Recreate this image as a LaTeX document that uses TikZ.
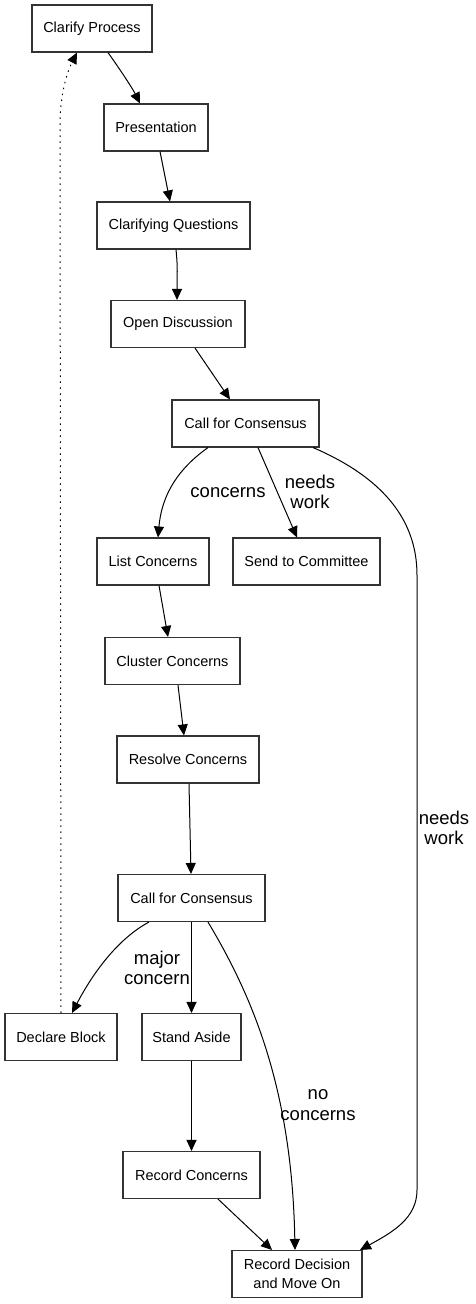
\documentclass[tikz,border=0pt]{standalone}
\usepackage{fontspec}
\setmainfont{Liberation Sans}
\usetikzlibrary{arrows.meta}
\begin{document}
\begin{tikzpicture}[x=1pt,y=-1pt,
  box/.style={draw=black!80,line width=1.1pt,minimum height=47pt,inner sep=0pt,
    font=\fontsize{14.5}{19}\selectfont,align=center},
  lbl/.style={font=\fontsize{18.5}{20.5}\selectfont,align=center,inner sep=0pt},
  edge/.style={line width=1pt,-{Triangle[length=11pt,width=10pt]}},
  back/.style={edge,dash pattern=on 1.5pt off 4.5pt}]
\useasboundingbox[fill=white] (0,0) rectangle (476,1304);
\node[box,minimum width=120pt] (cp) at (92,28.5) {Clarify Process};
\node[box,minimum width=104pt] (pres) at (156,127.5) {Presentation};
\node[box,minimum width=153pt] (cq) at (173.5,225.5) {Clarifying Questions};
\node[box,minimum width=134pt] (od) at (178,324) {Open Discussion};
\node[box,minimum width=147pt] (cfa) at (245.5,423.5) {Call for Consensus};
\node[box,minimum width=112pt] (lc) at (153,561.5) {List Concerns};
\node[box,minimum width=147pt] (stc) at (306.5,561.5) {Send to Committee};
\node[box,minimum width=135pt] (cc) at (172.5,661) {Cluster Concerns};
\node[box,minimum width=142pt] (rc) at (188,759.5) {Resolve Concerns};
\node[box,minimum width=147pt] (cfb) at (191.5,898) {Call for Consensus};
\node[box,minimum width=112pt] (db) at (61,1037) {Declare Block};
\node[box,minimum width=99pt] (sa) at (191.5,1037) {Stand Aside};
\node[box,minimum width=137pt] (rcon) at (191.5,1175) {Record Concerns};
\node[box,minimum width=130pt] (rd) at (297,1274) {Record Decision\\and Move On};

\node[lbl] (l1) at (228,493) {concerns};
\node[lbl] (l2) at (310,492) {needs\\work};
\node[lbl] (l3) at (444,828) {needs\\work};
\node[lbl] (l4) at (157,968) {major\\concern};
\node[lbl] (l5) at (318,1105) {no\\concerns};

\draw[edge] ([xshift=16pt]cp.south) .. controls +(10,14) and +(-8,-16) .. ([xshift=-16pt]pres.north);
\draw[edge] ([xshift=4pt]pres.south) -- ([xshift=-3.5pt]cq.north);
\draw[edge] ([xshift=2.5pt]cq.south) .. controls +(2,20) and +(0,-25) .. ([xshift=-1pt]od.north);
\draw[edge] ([xshift=17pt]od.south) -- ([xshift=-15.5pt]cfa.north);
\draw[edge] ([xshift=-37.5pt]cfa.south) .. controls +(-28,20) and +(4,-45) .. ([xshift=5pt]lc.north);
\draw[edge] ([xshift=12.5pt]cfa.south) -- ([xshift=-9.5pt]stc.north);
\draw[edge] ([xshift=67.5pt]cfa.south) .. controls +(70,30) and +(0,-55) .. (417,575) -- (417,1190)
  .. controls (417,1218) and (393,1232) .. ([xshift=63pt]rd.north);
\draw[edge] ([xshift=6pt]lc.south) -- ([xshift=-4.5pt]cc.north);
\draw[edge] ([xshift=5.5pt]cc.south) -- ([xshift=-4pt]rc.north);
\draw[edge] ([xshift=1pt]rc.south) -- ([xshift=-0.5pt]cfb.north);
\draw[edge] ([xshift=-42.5pt]cfb.south) .. controls +(-30,16) and +(22,-42) .. ([xshift=11pt]db.north);
\draw[edge] (cfb.south) -- (sa.north);
\draw[edge] ([xshift=16.5pt]cfb.south) .. controls +(45,75) and +(-3,-160) .. ([xshift=-2pt]rd.north);
\draw[edge] (sa.south) -- (rcon.north);
\draw[edge] ([xshift=26.5pt]rcon.south) -- ([xshift=-25pt]rd.north);
\draw[back] (db.north) -- (60,125) .. controls (60,95) and (67,72) .. ([xshift=-15pt]cp.south);
\end{tikzpicture}
\end{document}
